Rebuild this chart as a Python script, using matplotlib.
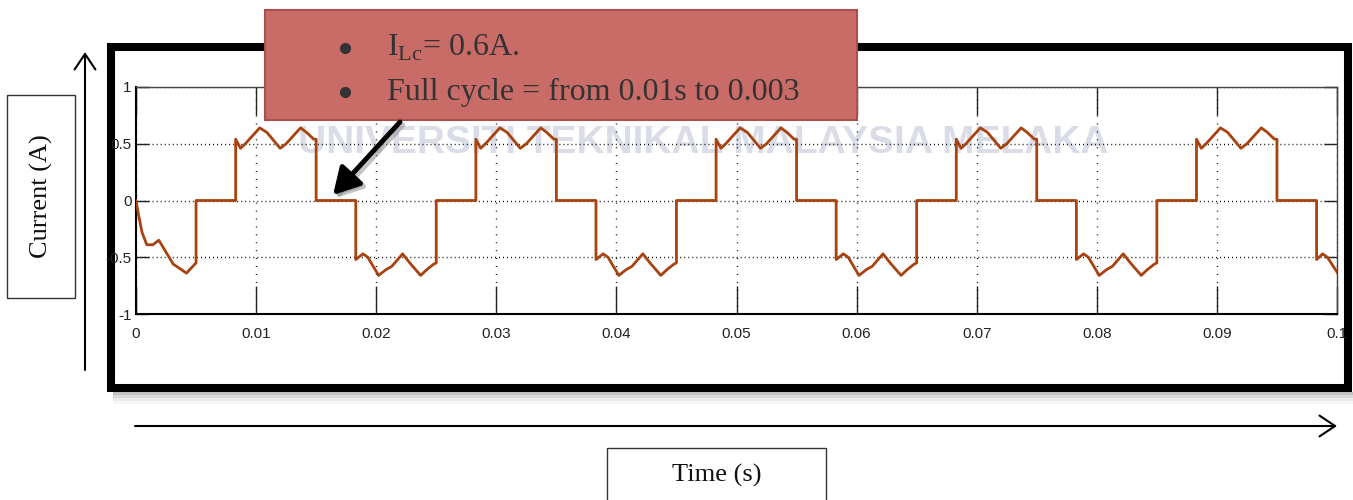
import matplotlib
matplotlib.use("Agg")
import matplotlib.pyplot as plt
from matplotlib.patches import Rectangle

# Scope trace (time in s, current in A)
start_t = [0.0, 0.0002, 0.0005, 0.0009, 0.0014, 0.0019, 0.0031, 0.0042, 0.0049, 0.0050, 0.0050]
start_i = [0.0, -0.12, -0.28, -0.39, -0.39, -0.35, -0.56, -0.64, -0.56, -0.55, 0.0]

# one positive and one negative conduction block, times relative to the step
pos_dt = [0.0, 0.0, 0.0004, 0.0008, 0.0020, 0.0026, 0.0037, 0.0042, 0.0054, 0.0059, 0.0065, 0.0067, 0.0067]
pos_i = [0.0, 0.54, 0.46, 0.50, 0.64, 0.60, 0.46, 0.50, 0.64, 0.60, 0.54, 0.54, 0.0]
neg_dt = [0.0, 0.0, 0.0006, 0.0010, 0.0019, 0.0025, 0.0030, 0.0039, 0.0045, 0.0054, 0.0059, 0.0065, 0.0067, 0.0067]
neg_i = [0.0, -0.52, -0.47, -0.50, -0.66, -0.61, -0.58, -0.47, -0.55, -0.66, -0.61, -0.56, -0.55, 0.0]

pos_onsets = [0.0083, 0.0283, 0.0483, 0.0683, 0.0883]
neg_onsets = [0.0183, 0.0383, 0.0583, 0.0783]

end_t = [0.0983, 0.0983, 0.0988, 0.0992, 0.1000]
end_i = [0.0, -0.52, -0.47, -0.50, -0.63]

x_ticks = [0, 0.01, 0.02, 0.03, 0.04, 0.05, 0.06, 0.07, 0.08, 0.09, 0.1]
x_labels = ["0", "0.01", "0.02", "0.03", "0.04", "0.05", "0.06", "0.07", "0.08", "0.09", "0.1"]
y_ticks = [-1, -0.5, 0, 0.5, 1]
y_labels = ["-1", "-0.5", "0", "0.5", "1"]

note_lines = ["I$_{\\mathrm{Lc}}$= 0.6A.", "Full cycle = from 0.01s to 0.003"]
watermark = "UNIVERSITI TEKNIKAL MALAYSIA MELAKA"

# build the full trace
t = list(start_t)
cur = list(start_i)
for k in range(len(pos_onsets)):
    t += [pos_onsets[k] + d for d in pos_dt]
    cur += pos_i
    if k < len(neg_onsets):
        t += [neg_onsets[k] + d for d in neg_dt]
        cur += neg_i
t += end_t
cur += end_i

plt.rcParams["mathtext.fontset"] = "custom"
plt.rcParams["mathtext.rm"] = "Liberation Serif"
serif = ["Liberation Serif", "DejaVu Serif"]
sans = ["Liberation Sans", "DejaVu Sans"]

W, H = 1353, 500
fig = plt.figure(figsize=(W / 100, H / 100), dpi=100, facecolor="white")

# background layer in pixel coordinates
bg = fig.add_axes([0, 0, 1, 1], zorder=0)
bg.set_xlim(0, W)
bg.set_ylim(H, 0)
bg.axis("off")

# frame shadow + thick frame
for k, a in enumerate([0.35, 0.22, 0.12, 0.05]):
    bg.add_patch(Rectangle((113, 392 + 3 * k), 1240, 3, color="#555555", alpha=a, lw=0))
bg.add_patch(Rectangle((111, 46.5), 1236.5, 341, fill=False, lw=5.8, ec="black"))

# y label box and arrow
bg.add_patch(Rectangle((7, 95), 68, 203, fill=False, lw=1, ec="#333333"))
bg.text(41, 196, "Current (A)", rotation=90, ha="center", va="center",
        fontsize=19, family=serif, color="#111111")
bg.annotate("", xy=(85, 52), xytext=(85, 370),
            arrowprops=dict(arrowstyle="->,head_length=0.45,head_width=0.3",
                            lw=1.5, color="black", mutation_scale=25,
                            shrinkA=0, shrinkB=0))

# x label box and arrow
bg.annotate("", xy=(1337, 426), xytext=(135, 426),
            arrowprops=dict(arrowstyle="->,head_length=0.45,head_width=0.3",
                            lw=1.5, color="black", mutation_scale=25,
                            shrinkA=0, shrinkB=0))
bg.add_patch(Rectangle((607, 448), 219, 60, fill=False, lw=1, ec="#333333"))
bg.text(717, 475, "Time (s)", ha="center", va="center", fontsize=19,
        family=serif, color="#111111")

# scope axes
ax = fig.add_axes([136 / W, 1 - 314 / H, (1337 - 136) / W, (314 - 87) / H], zorder=1)
ax.plot(t, cur, color="#A8420F", lw=2, zorder=3)
ax.set_xlim(0, 0.1)
ax.set_ylim(-1, 1)
ax.set_xticks(x_ticks)
ax.set_xticklabels(x_labels, family=sans, fontsize=11)
ax.set_yticks(y_ticks)
ax.set_yticklabels(y_labels, family=sans, fontsize=11)
ax.tick_params(axis="x", direction="in", length=20, width=1, top=True, pad=9, colors="#222222")
ax.tick_params(axis="y", direction="in", length=9.5, width=1, right=True, pad=3, colors="#222222")
ax.xaxis.grid(True, color="black", lw=1, linestyle=(0, (0.7, 5)))
ax.yaxis.grid(True, color="black", lw=1, linestyle=(0, (0.7, 2.2)))
for side in ["bottom", "left"]:
    ax.spines[side].set_linewidth(1.5)
    ax.spines[side].set_color("black")
for side in ["top", "right"]:
    ax.spines[side].set_linewidth(1)
    ax.spines[side].set_color("#444444")

# faint watermark under the trace
ax.text(703, 143, watermark, transform=bg.transData, ha="center", va="center",
        fontsize=28, fontweight="bold", family=sans, color="#DADDE8", zorder=0.5)

# overlay: red note box with arrow
ov = fig.add_axes([0, 0, 1, 1], zorder=5)
ov.set_xlim(0, W)
ov.set_ylim(H, 0)
ov.axis("off")
ov.patch.set_alpha(0)

ov.add_patch(Rectangle((265, 10), 592, 110, fc="#C96B67", ec="#A9504D", lw=1.5))
for k, yb in enumerate([56, 100]):
    ov.plot([345], [yb - 8], "o", ms=7, color="#333333")
    ov.text(387, yb, note_lines[k], ha="left", va="baseline", fontsize=23,
            family=serif, color="#333333")

ov.annotate("", xy=(336, 198), xytext=(403, 125),
            arrowprops=dict(arrowstyle="-|>,head_length=0.8,head_width=0.45",
                            lw=3.5, color="#888888", alpha=0.5, mutation_scale=20,
                            shrinkA=0, shrinkB=0))
ov.annotate("", xy=(333, 195), xytext=(400, 122),
            arrowprops=dict(arrowstyle="-|>,head_length=0.8,head_width=0.45",
                            lw=3.5, color="black", mutation_scale=20,
                            shrinkA=0, shrinkB=0))

fig.savefig("out.png", dpi=100, facecolor="white")
